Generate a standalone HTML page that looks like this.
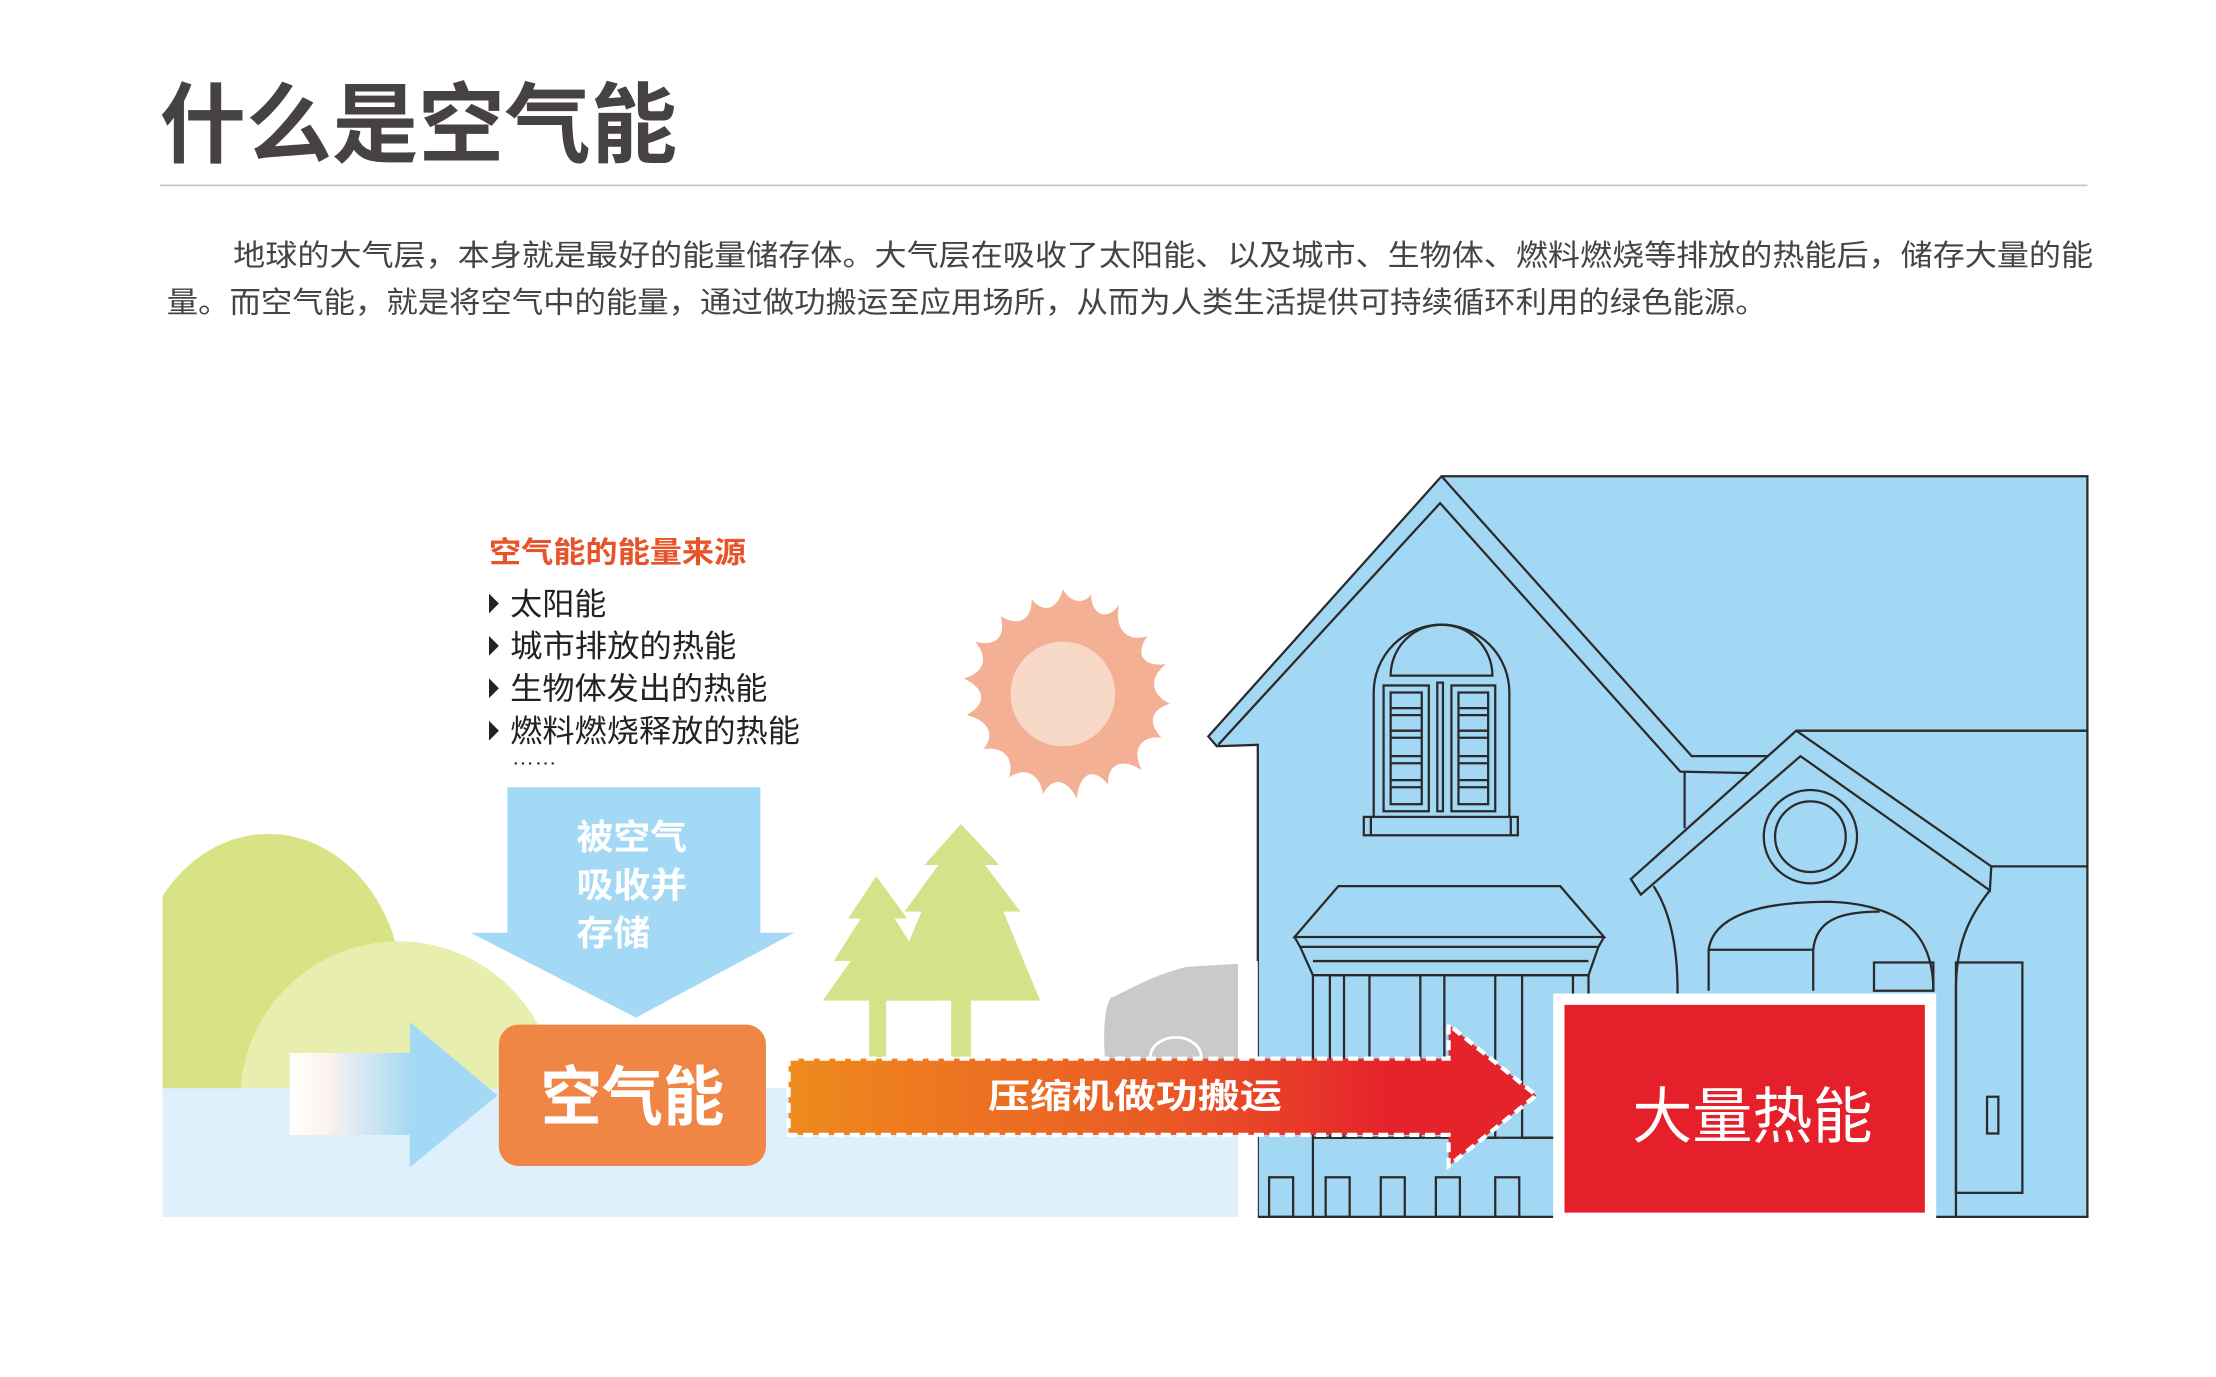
<!DOCTYPE html>
<html><head><meta charset="utf-8"><style>
html,body{margin:0;padding:0;background:#fff;}
svg{display:block;}
text{font-family:"Liberation Sans","Noto Sans CJK SC",sans-serif;}
</style></head><body>
<svg width="2216" height="1377" viewBox="0 0 1568 974.3" preserveAspectRatio="none" xmlns="http://www.w3.org/2000/svg">
<defs>
<linearGradient id="ga" x1="0" x2="1"><stop offset="0" stop-color="#fff"/><stop offset="0.3" stop-color="#fdf3ee"/><stop offset="1" stop-color="#a4d9f5"/></linearGradient>
<linearGradient id="gr" x1="0" x2="1"><stop offset="0" stop-color="#ef8a1d"/><stop offset="0.5" stop-color="#ea5a25"/><stop offset="0.8" stop-color="#e5232b"/><stop offset="1" stop-color="#e5232b"/></linearGradient>
<clipPath id="cg"><rect x="115" y="500" width="761" height="361"/></clipPath>
</defs>
<text x="113" y="110" font-size="62" font-weight="bold" fill="#474242" textLength="366" lengthAdjust="spacingAndGlyphs">什么是空气能</text>
<rect x="113" y="130.5" width="1364" height="1.3" fill="#c8c8c8"/>
<text x="165" y="188" font-size="21" fill="#444" textLength="1316" lengthAdjust="spacingAndGlyphs">地球的大气层，本身就是最好的能量储存体。大气层在吸收了太阳能、以及城市、生物体、燃料燃烧等排放的热能后，储存大量的能</text>
<text x="118" y="221" font-size="21" fill="#444" textLength="1132" lengthAdjust="spacingAndGlyphs">量。而空气能，就是将空气中的能量，通过做功搬运至应用场所，从而为人类生活提供可持续循环利用的绿色能源。</text>

<g clip-path="url(#cg)">
<ellipse cx="190" cy="704" rx="95" ry="114" fill="#d7e384"/>
<circle cx="282" cy="778" r="112" fill="#e8efae"/>
</g>
<rect x="115" y="770" width="761" height="91" fill="#def0fb"/>

<g fill="#d4e38a">
<polygon points="620,620 642,650 633,650 652,680 640,680 660,708 582,708 602,680 590,680 609,650 600,650"/>
<rect x="615" y="700" width="12" height="48"/>
<polygon points="680,583 707,612 697,612 722,645 710,645 736,708 626,708 652,645 640,645 664,612 654,612"/>
<rect x="673" y="700" width="14" height="48"/>
</g>
<path d="M876,682 L840,684 C815,690 800,700 786,706 C780,715 781,740 782,750 L876,750 Z" fill="#c9caca"/>
<path d="M814,748 A18,14 0 0 1 850,748" fill="none" stroke="#fff" stroke-width="2"/>

<g fill="#f4b095">
<path d="M752,417 C760,430 770,425 772,420 C772,435 783,440 792,428 C788,445 798,455 812,450 C803,462 808,472 825,470 C812,480 815,492 828,498 C814,502 812,512 822,522 C808,520 800,530 808,545 C794,536 784,540 784,555 C774,543 764,546 762,565 C754,550 744,550 738,562 C736,548 726,542 714,550 C718,536 710,528 696,530 C704,520 700,510 684,506 C698,498 698,488 682,480 C696,476 700,466 690,454 C705,458 712,450 708,436 C722,444 730,438 730,424 C738,434 748,432 752,417 Z"/>
</g>
<circle cx="752" cy="491" r="37" fill="#f8d9c8"/>

<text x="346" y="398" font-size="21" font-weight="bold" fill="#e8542a" textLength="182" lengthAdjust="spacingAndGlyphs">空气能的能量来源</text>
<g fill="#222">
<polygon points="346,420 353,427 346,434"/><polygon points="346,450 353,457 346,464"/>
<polygon points="346,480 353,487 346,494"/><polygon points="346,510 353,517 346,524"/>
</g>
<g font-size="22" fill="#222">
<text x="361" y="435" textLength="68" lengthAdjust="spacingAndGlyphs">太阳能</text>
<text x="361" y="465" textLength="160" lengthAdjust="spacingAndGlyphs">城市排放的热能</text>
<text x="361" y="495" textLength="182" lengthAdjust="spacingAndGlyphs">生物体发出的热能</text>
<text x="361" y="525" textLength="205" lengthAdjust="spacingAndGlyphs">燃料燃烧释放的热能</text>
<text x="362" y="541" font-size="14" textLength="32" lengthAdjust="spacingAndGlyphs">……</text>
</g>

<polygon points="359,557 538,557 538,660 562,660 450,720 333,660 359,660" fill="#a4d9f5"/>
<g font-size="25" font-weight="bold" fill="#fff">
<text x="408" y="601" textLength="78" lengthAdjust="spacingAndGlyphs">被空气</text>
<text x="408" y="635" textLength="78" lengthAdjust="spacingAndGlyphs">吸收并</text>
<text x="408" y="669" textLength="52" lengthAdjust="spacingAndGlyphs">存储</text>
</g>

<rect x="205" y="745" width="86" height="58" fill="url(#ga)"/>
<polygon points="290,723 352,775 290,826" fill="#a4d9f5"/>

<rect x="353" y="725" width="189" height="100" rx="14" fill="#ef8645"/>
<text x="447.5" y="792" font-size="46" font-weight="bold" fill="#fff" text-anchor="middle" textLength="130" lengthAdjust="spacingAndGlyphs">空气能</text>

<g stroke="#2a2a2a" stroke-width="1.6" fill="#a3d8f5" stroke-linejoin="miter">
<polygon points="1020,337 1477,337 1477,861 890,861 890,527 861,528 855,521"/>
<polyline fill="none" points="862,527 1019,356 1189,546 1240,547"/>
<polyline fill="none" points="1020,337 1197,535 1252,535"/>
<line x1="1192" y1="546" x2="1192" y2="586"/>
<polygon points="1271,517 1477,517 1477,613 1409,613 1408,630 1274,535 1161,633 1154,622"/>
<line x1="1271" y1="517" x2="1409" y2="613"/>
<circle cx="1281" cy="592" r="33" fill="none"/>
<circle cx="1281" cy="592" r="25" fill="none"/>
<path d="M1170,627 C1182,645 1187,670 1187,701 L1187,861" fill="none"/>
<path d="M1408,630 C1392,650 1384,670 1384,700 L1384,861" fill="none"/>
<path d="M1209,701 L1209,672 C1212,650 1240,638 1295,638 C1345,640 1368,660 1368,701" fill="none"/>
<path d="M1283,701 L1283,672 C1285,652 1300,645 1330,645" fill="none"/>
<line x1="1209" y1="672" x2="1283" y2="672"/>
<rect x="1326" y="681" width="42" height="20" fill="none"/>
<rect x="1384" y="681" width="47" height="163" fill="none"/>
<rect x="1406" y="776" width="8" height="26" fill="none"/>
<path d="M972,578 L972,490 A48,48 0 0 1 1068,490 L1068,578" fill="none"/>
<path d="M984,478 A36,36 0 0 1 1056,478 Z" fill="none"/>
<rect x="979" y="485" width="32" height="89" fill="none"/>
<rect x="1027" y="485" width="31" height="89" fill="none"/>
<rect x="984" y="490" width="22" height="79" fill="none"/>
<rect x="1032" y="490" width="21" height="79" fill="none"/>
<rect x="1017" y="483" width="4" height="91" fill="none"/>
<g fill="none">
<line x1="984" y1="501" x2="1006" y2="501"/><line x1="984" y1="506" x2="1006" y2="506"/>
<line x1="984" y1="517" x2="1006" y2="517"/><line x1="984" y1="522" x2="1006" y2="522"/>
<line x1="984" y1="535" x2="1006" y2="535"/><line x1="984" y1="540" x2="1006" y2="540"/>
<line x1="984" y1="552" x2="1006" y2="552"/><line x1="984" y1="557" x2="1006" y2="557"/>
<line x1="1032" y1="501" x2="1053" y2="501"/><line x1="1032" y1="506" x2="1053" y2="506"/>
<line x1="1032" y1="517" x2="1053" y2="517"/><line x1="1032" y1="522" x2="1053" y2="522"/>
<line x1="1032" y1="535" x2="1053" y2="535"/><line x1="1032" y1="540" x2="1053" y2="540"/>
<line x1="1032" y1="552" x2="1053" y2="552"/><line x1="1032" y1="557" x2="1053" y2="557"/>
</g>
<rect x="965" y="578" width="109" height="13" fill="none"/>
<line x1="970" y1="578" x2="970" y2="591"/><line x1="1069" y1="578" x2="1069" y2="591"/>
<polygon points="947,627 1104,627 1135,663 916,663" fill="none"/>
<polyline fill="none" points="916,663 920,670 1131,670 1135,663"/>
<polyline fill="none" points="920,670 929,690 1124,690 1131,670"/>
<line x1="929" y1="680" x2="1124" y2="680"/>
<line x1="929" y1="690" x2="929" y2="861"/>
<line x1="1124" y1="690" x2="1124" y2="861"/>
<rect x="941" y="690" width="10" height="115" fill="none"/>
<rect x="969" y="690" width="36" height="115" fill="none"/>
<rect x="1022" y="690" width="36" height="115" fill="none"/>
<rect x="1077" y="690" width="36" height="115" fill="none"/>
<line x1="929" y1="805" x2="1124" y2="805"/>
<rect x="898" y="833" width="17" height="28" fill="none"/>
<rect x="938" y="833" width="17" height="28" fill="none"/>
<rect x="977" y="833" width="17" height="28" fill="none"/>
<rect x="1016" y="833" width="17" height="28" fill="none"/>
<rect x="1058" y="833" width="17" height="28" fill="none"/>
</g>
<rect x="876" y="680" width="14" height="185" fill="#fff"/>

<rect x="1099" y="703" width="271" height="160" fill="#fff"/>
<rect x="1107" y="711" width="255" height="147" fill="#e5202b"/>
<text x="1240" y="805" font-size="43" fill="#fff" text-anchor="middle" textLength="170" lengthAdjust="spacingAndGlyphs">大量热能</text>

<polygon points="558,749 1025,749 1025,725 1087,775 1025,825 1025,803 558,803" fill="url(#gr)" stroke="#fff" stroke-width="3" stroke-dasharray="7,4"/>
<text x="803" y="784" font-size="24" font-weight="bold" fill="#fff" text-anchor="middle" textLength="208" lengthAdjust="spacingAndGlyphs">压缩机做功搬运</text>
</svg>
</body></html>
